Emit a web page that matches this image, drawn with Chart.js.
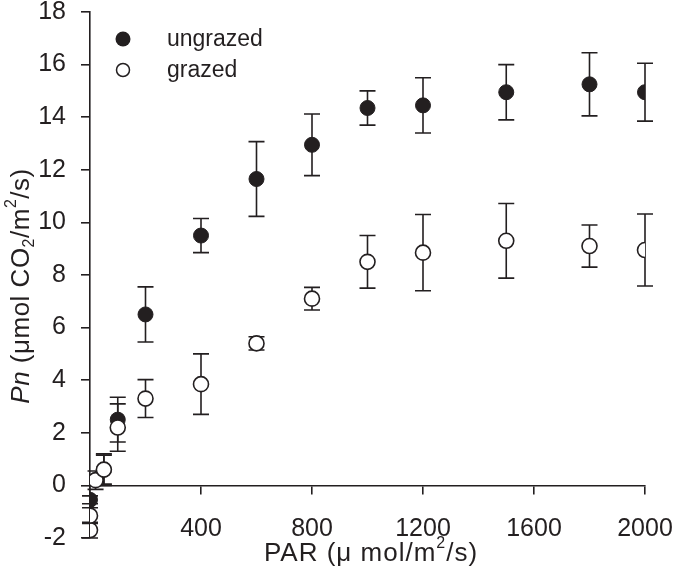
<!DOCTYPE html>
<html>
<head>
<meta charset="utf-8">
<script src="https://cdn.jsdelivr.net/npm/chart.js@4"></script>
<style>
  body { margin: 0; background: #fff; }
</style>
</head>
<body>
<canvas id="diagram" width="675" height="578"></canvas>
<script>
// PAR levels and net photosynthesis (mean and error)
const parUngrazed = [0, 50, 100, 200, 400, 600, 800, 1000, 1200, 1500, 1800, 2000];
const pnUngrazed = [-0.55, 0.6, 2.5, 6.5, 9.5, 11.65, 12.95, 14.35, 14.45, 14.95, 15.25, 14.95];
const errUngrazed = [0.15, 0.55, 0.85, 1.05, 0.65, 1.42, 1.17, 0.65, 1.05, 1.05, 1.2, 1.1];

const parGrazed = [0, 0, 20, 50, 100, 200, 400, 600, 800, 1000, 1200, 1500, 1800, 2000];
const pnGrazed = [-1.7, -1.15, 0.2, 0.6, 2.2, 3.3, 3.85, 5.4, 7.1, 8.5, 8.85, 9.3, 9.1, 8.95];
const errGrazed = [0.3, 0.3, 0.35, 0.6, 0.9, 0.72, 1.15, 0.25, 0.43, 1.0, 1.45, 1.42, 0.8, 1.37];

const yTicks = [-2, 0, 2, 4, 6, 8, 10, 12, 14, 16, 18];
const xTicks = [0, 400, 800, 1200, 1600, 2000];

const ink = '#231f20';
const fontName = "'Liberation Sans', Arial, sans-serif";

function points(xs, ys) {
    return xs.map((v, i) => ({ x: v, y: ys[i] }));
}

// error bars drawn under the symbols
const errorBars = {
    id: 'errorBars',
    beforeDatasetsDraw(chart) {
        const ctx = chart.ctx;
        const xs = chart.scales.x, ys = chart.scales.y;
        ctx.save();
        ctx.strokeStyle = ink;
        ctx.lineWidth = 1.6;
        chart.data.datasets.forEach(ds => {
            ds.data.forEach((p, i) => {
                const e = ds.errors[i];
                const px = xs.getPixelForValue(p.x);
                const top = ys.getPixelForValue(p.y + e);
                const bot = ys.getPixelForValue(p.y - e);
                ctx.beginPath();
                ctx.moveTo(px, top); ctx.lineTo(px, bot);
                ctx.moveTo(px - 8, top); ctx.lineTo(px + 8, top);
                ctx.moveTo(px - 8, bot); ctx.lineTo(px + 8, bot);
                ctx.stroke();
            });
        });
        ctx.restore();
    }
};

// legend + axis titles (italic Pn, sub/superscripts)
const extras = {
    id: 'extras',
    afterDraw(chart) {
        const ctx = chart.ctx;
        ctx.save();
        ctx.fillStyle = ink;
        ctx.strokeStyle = ink;

        // legend
        ctx.beginPath();
        ctx.arc(123, 39, 7.5, 0, Math.PI * 2);
        ctx.fill();
        ctx.beginPath();
        ctx.lineWidth = 1.5;
        ctx.arc(123, 70, 6.5, 0, Math.PI * 2);
        ctx.fillStyle = '#fff';
        ctx.fill();
        ctx.stroke();
        ctx.fillStyle = ink;
        ctx.font = '23px ' + fontName;
        ctx.textBaseline = 'middle';
        ctx.textAlign = 'left';
        ctx.fillText('ungrazed', 167, 40);
        ctx.fillText('grazed', 167, 71);

        // x title
        ctx.letterSpacing = '1px';
        const xParts = [
            { t: 'PAR (\u03bc mol/m', f: '26px ' + fontName, dy: 0 },
            { t: '2', f: '16px ' + fontName, dy: -10 },
            { t: '/s)', f: '26px ' + fontName, dy: 0 }
        ];
        drawParts(ctx, xParts, 371, 554);

        // y title
        ctx.letterSpacing = '0.5px';
        const yParts = [
            { t: 'Pn', f: 'italic 26px ' + fontName, dy: 0 },
            { t: ' (\u03bcmol CO', f: '26px ' + fontName, dy: 0 },
            { t: '2', f: '16px ' + fontName, dy: 8 },
            { t: '/m', f: '26px ' + fontName, dy: 0 },
            { t: '2', f: '16px ' + fontName, dy: -10 },
            { t: '/s)', f: '26px ' + fontName, dy: 0 }
        ];
        ctx.translate(22, 286);
        ctx.rotate(-Math.PI / 2);
        drawParts(ctx, yParts, 0, 0);
        ctx.restore();
    }
};

function drawParts(ctx, parts, cx, cy) {
    let w = 0;
    parts.forEach(p => { ctx.font = p.f; w += ctx.measureText(p.t).width; });
    let x = cx - w / 2;
    ctx.textAlign = 'left';
    ctx.textBaseline = 'middle';
    parts.forEach(p => {
        ctx.font = p.f;
        ctx.fillText(p.t, x, cy + p.dy);
        x += ctx.measureText(p.t).width;
    });
}

function noPad(s) {
    s.paddingLeft = 0;
    s.paddingRight = 0;
    s.paddingTop = 0;
    s.paddingBottom = 0;
}

const ctx = document.getElementById('diagram');

new Chart(ctx, {
    type: 'scatter',
    data: {
        datasets: [{
            label: 'grazed',
            data: points(parGrazed, pnGrazed),
            errors: errGrazed,
            pointRadius: 7.5,
            pointBackgroundColor: '#fff',
            pointBorderColor: ink,
            pointBorderWidth: 1.6
        }, {
            label: 'ungrazed',
            data: points(parUngrazed, pnUngrazed),
            errors: errUngrazed,
            pointRadius: 7.5,
            pointBackgroundColor: ink,
            pointBorderColor: ink,
            pointBorderWidth: 1
        }]
    },
    options: {
        responsive: false,
        animation: false,
        layout: { padding: { top: 12, right: 30, bottom: 40, left: 0 } },
        plugins: { legend: { display: false }, tooltip: { enabled: false } },
        scales: {
            x: {
                type: 'linear',
                min: 0,
                max: 2000,
                position: { y: 0 },
                afterBuildTicks: s => { s.ticks = xTicks.map(v => ({ value: v })); },
                afterFit: noPad,
                ticks: {
                    autoSkip: false,
                    maxRotation: 0,
                    padding: 21,
                    color: ink,
                    font: { family: fontName, size: 25 },
                    callback: v => v === 0 ? '' : v
                },
                grid: { drawOnChartArea: false, tickLength: 8, color: ink, lineWidth: 1.6 },
                border: { color: ink, width: 1.6 }
            },
            y: {
                min: -2,
                max: 18,
                afterBuildTicks: s => { s.ticks = yTicks.map(v => ({ value: v })); },
                afterFit: s => { s.width = 90; noPad(s); },
                ticks: {
                    padding: 15,
                    color: ink,
                    font: { family: fontName, size: 25 }
                },
                grid: { drawOnChartArea: false, tickLength: 9, color: ink, lineWidth: 1.6 },
                border: { color: ink, width: 1.6 }
            }
        }
    },
    plugins: [errorBars, extras]
});
</script>
</body>
</html>
